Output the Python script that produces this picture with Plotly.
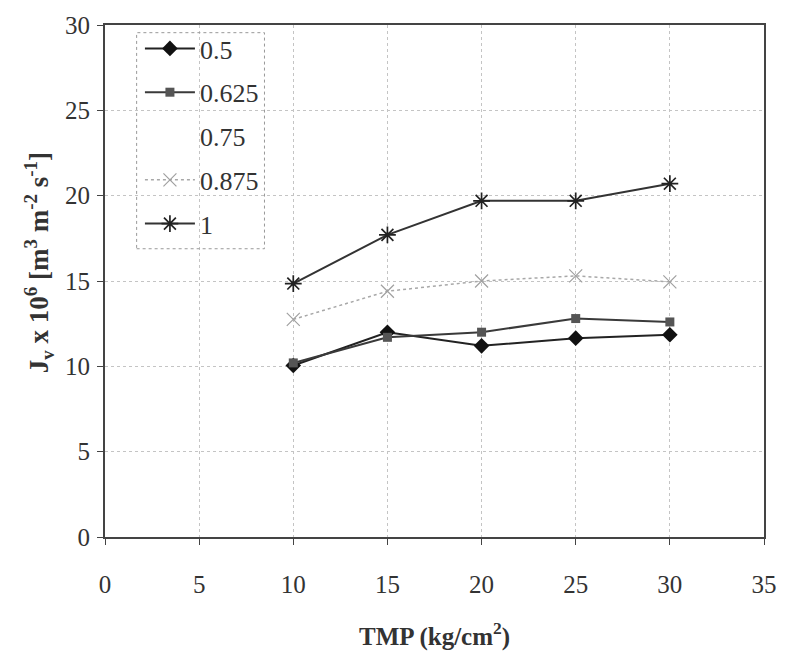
import plotly.graph_objects as go

tmp = [10, 15, 20, 25, 30]
s_05 = [10.05, 12.0, 11.2, 11.65, 11.85]
s_0625 = [10.2, 11.7, 12.0, 12.8, 12.6]
s_075 = [None, None, None, None, None]
s_0875 = [12.75, 14.4, 15.0, 15.3, 14.95]
s_1 = [14.85, 17.7, 19.7, 19.7, 20.7]
names = ["0.5", "0.625", "0.75", "0.875", "1"]
x_title = "TMP (kg/cm<sup>2</sup>)"
y_title = "J<sub>v</sub> x 10<sup>6</sup> [m<sup>3</sup> m<sup>-2</sup> s<sup>-1</sup>]"

FONT = "Liberation Serif"
TXT = "#333333"

fig = go.Figure()
fig.add_trace(go.Scatter(x=tmp, y=s_05, name=names[0], mode="lines+markers", legendgroup="a",
                         line=dict(color="#222222", width=2),
                         marker=dict(symbol="diamond", size=12, color="#111111")))
fig.add_trace(go.Scatter(x=tmp, y=s_0625, name=names[1], mode="lines+markers", legendgroup="b",
                         line=dict(color="#3a3a3a", width=2),
                         marker=dict(symbol="square", size=9, color="#555555")))
fig.add_trace(go.Scatter(x=tmp, y=s_075, name=names[2], mode="lines", legendgroup="c",
                         line=dict(color="white", width=1.5)))
fig.add_trace(go.Scatter(x=tmp, y=s_0875, name=names[3], mode="lines+markers", legendgroup="d",
                         line=dict(color="#a8a8a8", width=1.5, dash="dot"),
                         marker=dict(symbol="x-thin", size=13,
                                     line=dict(color="#a0a0a0", width=1.2))))
fig.add_trace(go.Scatter(x=tmp, y=s_1, name=names[4], mode="lines+markers", legendgroup="e",
                         line=dict(color="#333333", width=2),
                         marker=dict(symbol="asterisk", size=14,
                                     line=dict(color="#222222", width=1.7))))

axis_common = dict(
    showline=True, linecolor="#444444", linewidth=2, mirror=True,
    showgrid=True, gridcolor="#c4c4c4", griddash="dot", gridwidth=1,
    ticks="outside", ticklen=6, tickcolor="#444444",
    zeroline=False,
    tickfont=dict(family=FONT, size=25, color=TXT),
)

fig.update_layout(
    width=789, height=664,
    margin=dict(l=105, r=12, t=20, b=127),
    paper_bgcolor="white", plot_bgcolor="white",
    font=dict(family=FONT, color=TXT),
    xaxis=dict(range=[0, 35], dtick=5, ticklabelstandoff=18, **axis_common),
    yaxis=dict(range=[0, 30], dtick=5, ticklabelstandoff=2, **axis_common),
    legend=dict(x=0.053, y=1.0, xanchor="left", yanchor="top",
                bgcolor="rgba(0,0,0,0)", borderwidth=0,
                font=dict(family=FONT, size=26, color=TXT),
                tracegroupgap=7, itemwidth=50,
                itemsizing="trace"),
    shapes=[dict(type="rect", xref="paper", yref="paper",
                 x0=0.048, x1=0.242, y0=0.563, y1=0.985,
                 line=dict(color="#999999", width=1, dash="dot"),
                 fillcolor="rgba(0,0,0,0)", layer="above")],
    annotations=[
        dict(text=x_title, xref="paper", yref="paper", x=0.5, y=-0.19,
             xanchor="center", yanchor="middle", showarrow=False,
             font=dict(family=FONT, size=25, color=TXT, weight="bold")),
        dict(text=y_title, xref="paper", yref="paper", x=-0.1, y=0.535,
             xanchor="center", yanchor="middle", showarrow=False, textangle=-90,
             font=dict(family=FONT, size=27, color=TXT, weight="bold")),
    ],
    showlegend=True,
)

fig.write_html("out.html")
